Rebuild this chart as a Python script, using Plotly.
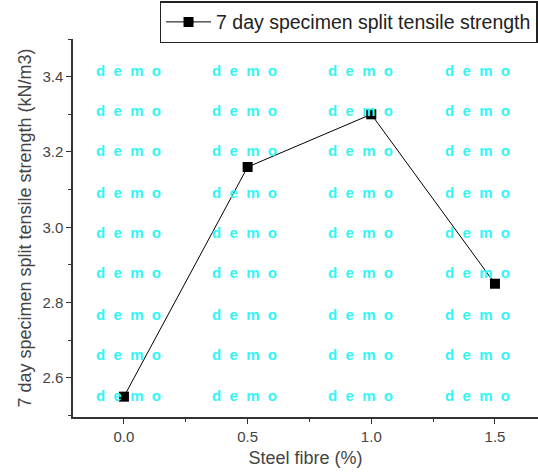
import plotly.graph_objects as go

steel_fibre = [0.0, 0.5, 1.0, 1.5]
strength = [2.55, 3.16, 3.30, 2.85]
series_name = "7 day specimen split tensile strength"
x_ticks = [0.0, 0.5, 1.0, 1.5]
x_tick_labels = ["0.0", "0.5", "1.0", "1.5"]
y_ticks = [2.6, 2.8, 3.0, 3.2, 3.4]
y_tick_labels = ["2.6", "2.8", "3.0", "3.2", "3.4"]

fig = go.Figure()
fig.add_trace(go.Scatter(
    x=steel_fibre, y=strength, mode="lines+markers", name=series_name,
    line=dict(color="black", width=1),
    marker=dict(symbol="square", size=10, color="black"),
))

# watermark grid
wm_x = [0.119, 0.369, 0.619, 0.869]
wm_y = [0.917, 0.810, 0.704, 0.595, 0.487, 0.381, 0.272, 0.166, 0.058]
for wx in wm_x:
    for wy in wm_y:
        fig.add_annotation(
            x=wx, y=wy, xref="paper", yref="paper", showarrow=False,
            xanchor="center", yanchor="middle",
            text="<b>d\u00a0\u00a0e\u00a0\u00a0m\u00a0\u00a0o</b>",
            font=dict(family="Liberation Sans, Arial", size=15, color="#33f5f5"),
        )

axis_common = dict(
    showline=True, linecolor="#333333", linewidth=1.5, mirror=False,
    ticks="outside", ticklen=5, tickwidth=1.2, tickcolor="#333333",
    showgrid=False, zeroline=False,
    tickfont=dict(family="Liberation Sans, Arial", size=15, color="#444444"),
)

fig.update_layout(
    width=538, height=474,
    margin=dict(l=73, r=0, t=39, b=57),
    plot_bgcolor="white", paper_bgcolor="white",
    font=dict(family="Liberation Sans, Arial", color="#333333"),
    showlegend=True,
    legend=dict(
        x=0.999, y=1.100, xanchor="right", yanchor="top",
        bgcolor="white", bordercolor="#222222", borderwidth=1.5,
        font=dict(family="Liberation Sans, Arial", size=19.5, color="#222222"),
        itemwidth=45, tracegroupgap=0,
    ),
    xaxis=dict(
        range=[-0.206, 1.674], tickvals=x_ticks, ticktext=x_tick_labels,
        minor=dict(ticks="outside", ticklen=3, dtick=0.25, tick0=0, tickcolor="#333333"),
        title=dict(text="Steel fibre (%)", font=dict(size=18, color="#444444"), standoff=8),
        **axis_common,
    ),
    yaxis=dict(
        range=[2.496, 3.50], tickvals=y_ticks, ticktext=y_tick_labels,
        minor=dict(ticks="outside", ticklen=3, dtick=0.1, tick0=2.5, tickcolor="#333333"),
        title=dict(text="7 day specimen split tensile strength (kN/m3)", font=dict(size=18, color="#444444"), standoff=6),
        **axis_common,
    ),
)

fig.write_html("out.html")
